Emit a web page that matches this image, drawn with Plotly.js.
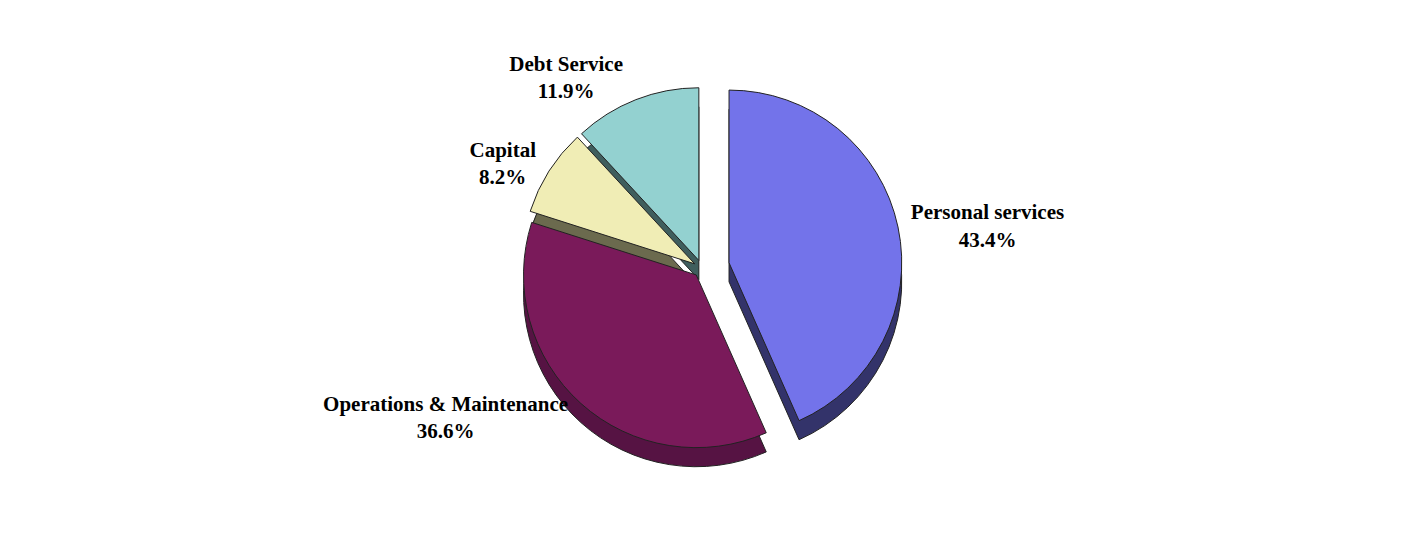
<!DOCTYPE html>
<html>
<head>
<meta charset="utf-8">
<script src="https://cdn.plot.ly/plotly-3.0.1.min.js"></script>
<style>html,body{margin:0;padding:0;background:#fff;}#chart{width:1404px;height:537px;}</style>
</head>
<body>
<div id="chart"></div>
<script>
const categories = ["Personal services", "Operations & Maintenance", "Capital", "Debt Service"];
const shares = [43.4, 36.6, 8.2, 11.9];
const topColors = ["#7373EA", "#7A1A5A", "#F0EDB5", "#93D1D0"];
const sideColors = ["#33336A", "#561343", "#6B6A4E", "#3F5E5D"];
const explode = [0.16, 0.05, 0.05, 0.05];

const common = {
  type: "pie",
  labels: categories,
  values: shares,
  sort: false,
  direction: "clockwise",
  rotation: 0,
  pull: explode,
  showlegend: false,
  automargin: false,
  hoverinfo: "label+value"
};

const depth = Object.assign({}, common, {
  marker: {colors: sideColors, line: {color: "#222", width: 1}},
  textinfo: "none",
  domain: {x: [0.2, 0.8], y: [0.04, 0.88]}
});

const face = Object.assign({}, common, {
  marker: {colors: topColors, line: {color: "#222", width: 1}},
  textposition: "outside",
  texttemplate: "<b>%{label}</b><br><b>%{value:.1f}%</b>",
  outsidetextfont: {family: "Liberation Serif, Times New Roman, serif", size: 21, color: "#000"},
  domain: {x: [0.2, 0.8], y: [0.08, 0.92]}
});

const layout = {
  width: 1404,
  height: 537,
  margin: {l: 10, r: 10, t: 30, b: 30},
  paper_bgcolor: "#fff",
  plot_bgcolor: "#fff",
  showlegend: false
};

Plotly.newPlot("chart", [depth, face], layout, {displayModeBar: false, staticPlot: true});
</script>
</body>
</html>
